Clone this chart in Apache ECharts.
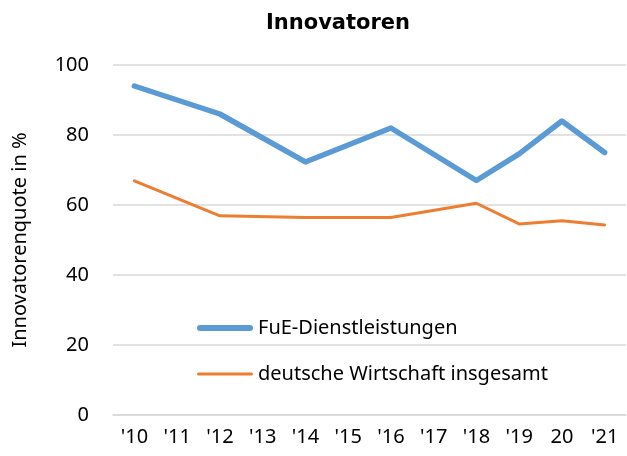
<!DOCTYPE html>
<html>
<head>
<meta charset="utf-8">
<script src="https://cdn.jsdelivr.net/npm/echarts@6/dist/echarts.min.js"></script>
<style>
  html, body { margin: 0; padding: 0; background: #fff; }
  #chart { width: 627px; height: 456px; }
</style>
</head>
<body>
<div id="chart"></div>
<script>
const years = ["'10", "'11", "'12", "'13", "'14", "'15", "'16", "'17", "'18", "'19", "20", "'21"];
// no survey value in odd years before 2018 -> null, line drawn through
const fue = [94, null, 86, null, 72.3, null, 82, null, 67, 74.6, 84, 75];
const gesamt = [66.9, null, 56.9, null, 56.4, null, 56.4, null, 60.5, 54.6, 55.5, 54.3];

const font = 'Noto Sans';
const chart = echarts.init(document.getElementById('chart'));
chart.setOption({
  animation: false,
  title: {
    text: 'Innovatoren',
    left: 333,
    textAlign: 'center',
    top: 8,
    textStyle: { fontFamily: 'DejaVu Sans', fontWeight: 'bold', fontSize: 21, color: '#000' }
  },
  legend: {
    orient: 'vertical',
    left: 197,
    top: 318,
    padding: 0,
    itemWidth: 56,
    itemHeight: 12,
    itemGap: 26,
    textStyle: { fontFamily: font, fontSize: 20, color: '#000' },
    data: [
      { name: 'FuE-Dienstleistungen', icon: 'path://M3,0 L53,0 A3,3 0 0 1 53,6 L3,6 A3,3 0 0 1 3,0 Z' },
      { name: 'deutsche Wirtschaft insgesamt', icon: 'path://M1.5,0 L54.5,0 A1.5,1.5 0 0 1 54.5,3 L1.5,3 A1.5,1.5 0 0 1 1.5,0 Z' }
    ]
  },
  grid: { left: 113, right: 1, top: 65, bottom: 41 },
  xAxis: {
    type: 'category',
    data: years,
    boundaryGap: true,
    axisLine: { lineStyle: { color: '#d9d9d9', width: 1.5 } },
    axisTick: { show: false },
    axisLabel: { fontFamily: font, fontSize: 20, color: '#000', margin: 12 }
  },
  yAxis: {
    type: 'value',
    min: 0,
    max: 100,
    interval: 20,
    name: 'Innovatorenquote in %',
    nameLocation: 'middle',
    nameGap: 83,
    nameTextStyle: { fontFamily: font, fontSize: 20, color: '#000' },
    axisLabel: { fontFamily: font, fontSize: 20, color: '#000', margin: 24 },
    splitLine: { lineStyle: { color: '#d9d9d9', width: 1.5 } }
  },
  series: [
    {
      name: 'FuE-Dienstleistungen',
      type: 'line',
      data: fue,
      connectNulls: true,
      symbol: 'none',
      color: '#5b9bd5',
      lineStyle: { width: 5.5, cap: 'round', join: 'round' }
    },
    {
      name: 'deutsche Wirtschaft insgesamt',
      type: 'line',
      data: gesamt,
      connectNulls: true,
      symbol: 'none',
      color: '#ed7d31',
      lineStyle: { width: 3, cap: 'round', join: 'round' }
    }
  ]
});
</script>
</body>
</html>
